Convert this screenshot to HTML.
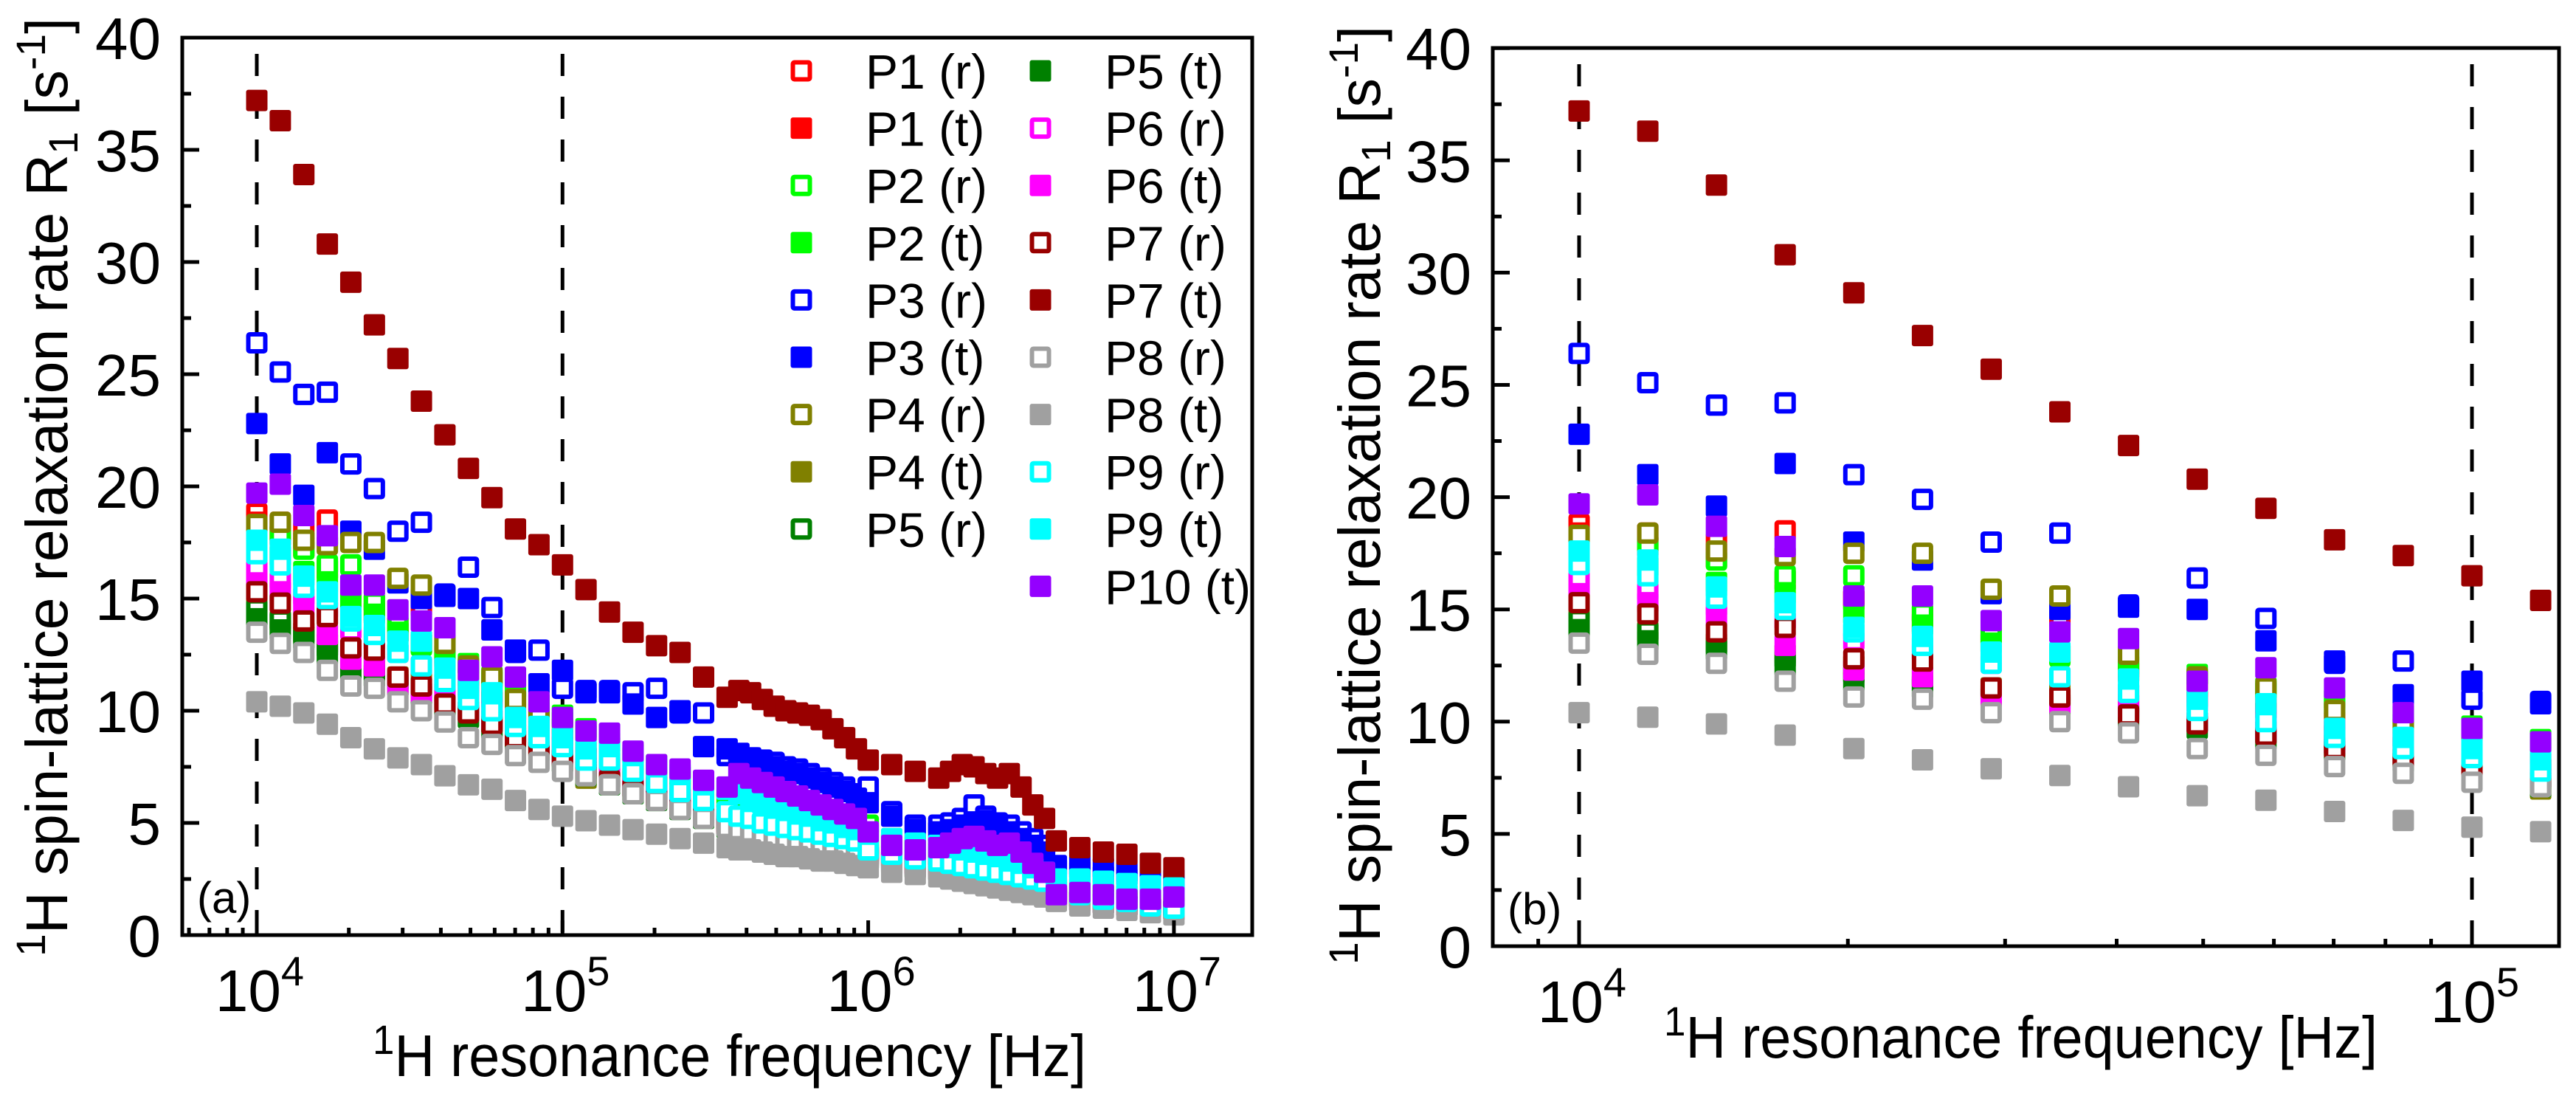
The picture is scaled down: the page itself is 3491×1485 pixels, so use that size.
<!DOCTYPE html>
<html><head><meta charset="utf-8">
<style>
html,body{margin:0;padding:0;background:#fff;}
svg{display:block;font-family:"Liberation Sans",Arial,sans-serif;}
</style></head>
<body>
<svg id="fig" xmlns="http://www.w3.org/2000/svg" width="3491" height="1485" viewBox="0 0 3491 1485">
<rect width="3491" height="1485" fill="#fff"/>
<defs>
<clipPath id="clipA"><rect x="247" y="51" width="1450" height="1216"/></clipPath>
<clipPath id="clipB"><rect x="2023" y="65" width="1445" height="1217"/></clipPath>
</defs>
<g id="panelA"></g>
<g id="panelB"></g>
</svg>
<script>
// ---- data ----
const freqA = [10000,11938,14251,17013,20309,24245,28943,34551,41246,49239,58780,70170,83768,100000,119378,
142510,170125,203092,242446,289427,
345511,377500,412463,450600,492388,538000,587802,642200,701704,766700,837678,915200,
1000000,1193777,1425103,
1701254,1859000,2030918,2219000,2424462,2649000,2894266,3162278,3455107,3775000,
4124626,4923883,5878016,7017038,8376776,10000000];
const seriesNames = ["P1 (r)","P1 (t)","P2 (r)","P2 (t)","P3 (r)","P3 (t)","P4 (r)","P4 (t)","P5 (r)","P5 (t)","P6 (r)","P6 (t)","P7 (r)","P7 (t)","P8 (r)","P8 (t)","P9 (r)","P9 (t)","P10 (t)"];
const seriesColors = ["#ff0000","#ff0000","#00ff00","#00ff00","#0000ff","#0000ff","#808000","#808000","#008000","#008000","#ff00ff","#ff00ff","#990000","#990000","#a0a0a0","#a0a0a0","#00ffff","#00ffff","#9400ff"];
const seriesHollow = [true,false,true,false,true,false,true,false,true,false,true,false,true,false,true,false,true,false,false];
const P1r=[18.8,18.4,18.0,18.5,15.5,14.8,13.8,14.6,12.3,11.0,10.5,9.5,9.0,8.5,8.0, 7.6,7.1,6.7,6.2,5.8, 5.3,5.2,5.0,4.9,4.7,4.6,4.5,4.4,4.3,4.2,4.1,4.0, 3.7,3.5,3.3, 3.2,3.1,3.0,2.9,2.8,2.7,2.6,2.5,2.4,2.3, 1.9,1.7,1.6,1.4,1.3,1.2];
const P1t=[18.4,17.8,17.3,16.3,15.4,14.4,13.5,13.0,12.2,11.5,10.8,10.0,9.3,8.8,8.2, 7.7,7.2,6.8,6.3,5.9, 5.4,5.3,5.1,5.0,4.8,4.7,4.6,4.5,4.4,4.3,4.2,4.1, 3.8,3.6,3.4, 3.3,3.2,3.1,3.0,2.9,2.8,2.7,2.6,2.5,2.4, 2.0,1.8,1.7,1.5,1.4,1.3];
const P2r=[17.6,17.9,17.2,16.5,16.5,14.8,13.8,12.9,12.9,12.0,11.4,10.7,10.0,9.6,9.0, 8.5,8.0,7.5,7.0,6.4, 6.0,5.8,5.6,5.4,5.2,5.0,4.9,4.8,4.7,4.6,4.5,4.4, 4.9,4.2,4.0, 3.6,3.5,3.4,3.3,3.2,3.1,3.0,2.9,2.8,2.7, 2.2,2.0,1.9,1.7,1.6,1.5];
const P2t=[17.3,16.9,16.2,15.7,14.8,14.3,13.5,13.0,12.5,12.1,11.5,11.0,10.3,9.8,9.2, 8.6,8.1,7.6,7.1,6.5, 6.1,5.9,5.7,5.5,5.3,5.1,5.0,4.9,4.8,4.7,4.6,4.5, 4.3,4.1,3.9, 3.7,3.6,3.5,3.4,3.3,3.2,3.1,3.0,2.9,2.8, 2.3,2.1,2.0,1.8,1.7,1.6];
const P3r=[26.4,25.1,24.1,24.2,21.0,19.9,18.0,18.4,15.2,16.4,14.6,12.6,12.7,11.0,10.9, 10.9,10.8,11.0,9.9,9.9, 8.0,8.0,7.9,7.8,7.7,7.5,7.4,7.2,7.0,6.8,6.6,6.3, 6.6,5.5,4.9, 4.9,5.0,5.2,5.8,5.3,5.0,4.9,4.6,4.3,4.0, 3.0,2.9,2.7,2.6,2.4,2.3];
const P3t=[22.8,21.0,19.6,21.5,18.0,17.2,15.7,15.0,15.1,15.0,13.6,12.7,11.2,11.8,10.8, 10.8,10.3,9.7,10.0,8.4, 8.3,8.1,7.9,7.7,7.5,7.3,7.2,7.0,6.8,6.6,6.4,6.1, 5.9,5.3,4.7, 4.6,4.7,4.9,5.0,5.1,4.9,4.6,4.3,4.0,3.7, 3.1,3.1,3.0,2.8,2.6,2.5];
const P4r=[18.3,18.4,17.6,17.4,17.5,17.5,15.9,15.6,13.0,12.0,11.5,10.5,9.8,9.3,7.0, 7.5,7.0,6.5,6.0,5.6, 5.1,5.0,4.8,4.7,4.5,4.4,4.3,4.2,4.1,4.0,3.9,3.8, 3.6,3.4,3.2, 3.1,3.0,2.9,2.8,2.7,2.6,2.5,2.4,2.3,2.2, 1.8,1.6,1.5,1.4,1.3,1.1];
const P4t=[14.6,14.0,13.5,13.0,12.5,12.0,11.5,11.3,10.8,10.0,9.6,9.0,8.4,7.9,7.0, 6.8,6.4,6.1,5.7,5.3, 4.9,4.8,4.7,4.6,4.4,4.3,4.2,4.1,4.0,3.9,3.8,3.7, 3.5,3.3,3.1, 3.0,2.9,2.8,2.7,2.6,2.5,2.4,2.3,2.2,2.1, 1.7,1.5,1.4,1.3,1.2,1.1];
const P5r=[14.5,14.0,13.4,12.8,12.1,11.7,11.3,10.9,10.4,9.9,9.4,8.9,8.4,7.9,7.3, 6.9,6.5,6.2,5.8,5.4, 5.0,4.9,4.8,4.7,4.5,4.4,4.3,4.2,4.1,4.0,3.9,3.8, 3.6,3.4,3.2, 3.1,3.0,2.9,2.8,2.7,2.6,2.5,2.4,2.3,2.2, 1.8,1.6,1.5,1.4,1.3,1.2];
const P5t=[14.1,13.6,13.2,12.5,11.8,11.5,11.1,10.7,10.2,9.7,9.2,8.7,8.2,7.7,7.1, 6.7,6.3,6.0,5.6,5.2, 4.8,4.7,4.6,4.5,4.3,4.2,4.1,4.0,3.9,3.8,3.7,3.6, 3.4,3.2,3.0, 2.9,2.8,2.7,2.6,2.5,2.4,2.3,2.2,2.1,2.0, 1.6,1.5,1.4,1.3,1.2,1.1];
const P6r=[16.3,15.8,15.1,14.5,13.6,13.1,12.6,12.0,11.3,10.8,10.3,9.7,9.2,8.7,8.0, 7.3,6.9,6.5,6.0,5.6, 5.2,5.0,4.9,4.8,4.6,4.5,4.4,4.3,4.2,4.1,4.0,3.9, 3.6,3.4,3.2, 3.1,3.0,2.9,2.8,2.7,2.6,2.5,2.4,2.3,2.2, 1.8,1.6,1.5,1.4,1.3,1.2];
const P6t=[15.7,15.3,14.7,13.4,12.3,12.0,11.1,10.8,10.6,10.0,9.6,9.0,8.5,8.0,7.5, 7.0,6.6,6.2,5.8,5.4, 4.9,4.8,4.6,4.5,4.4,4.3,4.2,4.1,4.0,3.9,3.8,3.7, 3.5,3.3,3.1, 3.0,2.9,2.8,2.7,2.6,2.5,2.4,2.3,2.2,2.1, 1.7,1.5,1.4,1.3,1.2,1.1];
const P7r=[15.3,14.8,14.0,14.2,12.8,12.7,11.5,11.1,10.3,9.9,9.4,8.8,8.3,7.9,7.4, 6.9,6.5,6.1,5.7,5.3, 4.9,4.8,4.7,4.6,4.4,4.3,4.2,4.1,4.0,3.9,3.8,3.7, 3.5,3.3,3.1, 3.0,2.9,2.8,2.7,2.6,2.5,2.4,2.3,2.2,2.1, 1.7,1.6,1.5,1.4,1.3,1.2];
const P7t=[37.2,36.3,33.9,30.8,29.1,27.2,25.7,23.8,22.3,20.8,19.5,18.1,17.4,16.5,15.4, 14.4,13.5,12.9,12.6,11.5, 10.6,10.9,10.8,10.5,10.2,10.0,9.9,9.8,9.6,9.2,8.8,8.3, 7.8,7.6,7.3, 7.0,7.3,7.6,7.5,7.2,7.0,7.2,6.6,5.8,5.2, 4.2,3.9,3.7,3.6,3.2,3.0];
const P8r=[13.5,13.0,12.6,11.8,11.1,11.0,10.4,10.0,9.5,8.8,8.5,8.0,7.7,7.3,7.1, 6.7,6.3,6.0,5.6,5.2, 4.8,4.7,4.6,4.4,4.3,4.2,4.1,4.0,3.9,3.8,3.7,3.6, 3.3,3.1,2.9, 2.8,2.7,2.6,2.5,2.4,2.3,2.2,2.1,2.0,1.9, 1.6,1.5,1.4,1.3,1.2,1.1];
const P8t=[10.4,10.2,9.9,9.4,8.8,8.3,7.9,7.6,7.1,6.7,6.5,6.0,5.6,5.3,5.1, 4.9,4.7,4.5,4.3,4.1, 3.9,3.8,3.8,3.7,3.6,3.5,3.5,3.4,3.3,3.3,3.2,3.1, 3.0,2.8,2.7, 2.6,2.5,2.4,2.3,2.2,2.1,2.0,1.9,1.8,1.7, 1.5,1.3,1.2,1.1,1.0,0.9];
const P9r=[17.0,16.5,15.5,15.0,14.0,13.4,12.6,12.0,11.3,10.5,10.0,9.3,8.8,8.4,7.8, 7.8,7.3,6.8,6.4,6.0, 5.5,5.3,5.2,5.0,4.9,4.8,4.7,4.6,4.5,4.4,4.3,4.2, 3.8,3.6,3.4, 3.3,3.2,3.1,3.0,2.9,2.8,2.7,2.6,2.5,2.4, 2.0,1.8,1.6,1.5,1.3,1.2];
const P9t=[17.6,17.2,16.0,15.3,14.2,13.8,13.1,13.1,11.9,11.0,10.8,9.7,9.3,8.8,8.3, 8.4,8.0,7.5,7.2,6.7, 6.5,6.3,6.1,5.9,5.7,5.6,5.4,5.3,5.1,5.0,4.8,4.7, 4.5,4.3,4.1, 4.0,3.9,3.8,3.7,3.6,3.5,3.3,3.2,3.0,2.8, 2.5,2.5,2.4,2.3,2.2,2.1];
const P10t=[19.7,20.1,18.7,17.8,15.6,15.6,14.5,14.0,13.7,11.8,12.4,11.5,10.4,9.7,9.1, 9.0,8.2,7.6,7.4,6.9, 6.6,7.2,7.0,6.8,6.6,6.4,6.2,6.0,5.8,5.6,5.4,5.2, 4.6,4.0,3.8, 3.9,4.1,4.3,4.4,4.2,4.0,4.1,3.7,3.2,2.8, 1.8,1.9,1.8,1.6,1.6,1.7];
const seriesValues=[P1r,P1t,P2r,P2t,P3r,P3t,P4r,P4t,P5r,P5t,P6r,P6t,P7r,P7t,P8r,P8t,P9r,P9t,P10t];
const nB = 15; // panel b shows the low-frequency subset
const yTicks=[0,5,10,15,20,25,30,35,40];

const NS="http://www.w3.org/2000/svg";
function mk(tag,attrs,parent){const e=document.createElementNS(NS,tag);for(const k in attrs)e.setAttribute(k,attrs[k]);parent.appendChild(e);return e;}

function marker(parent,cx,cy,color,hollow){
  let r;
  if(hollow){r=mk('rect',{x:cx-11.5,y:cy-11.5,width:23,height:23,rx:2,fill:'#fff',stroke:color,'stroke-width':6},parent);}
  else{r=mk('rect',{x:cx-14.5,y:cy-14.5,width:29,height:29,rx:3,fill:color},parent);}
  return r;
}

function drawPanel(cfg){
  const g=document.getElementById(cfg.id);
  const X=f=>cfg.x0+(Math.log10(f)-4)*cfg.dec;
  const Y=v=>cfg.yb-v*cfg.py;
  [1e4,1e5].forEach(f=>{
    const l=mk('line',{x1:X(f),x2:X(f),y1:cfg.top+22,y2:cfg.yb,stroke:'#000','stroke-width':5,'stroke-dasharray':'30 28'},g);
    
    
  });
  const sg=mk('g',{'clip-path':'url(#'+cfg.clip+')'},g);
  
  
  for(let s=0;s<seriesValues.length;s++){
    const gg=mk('g',{},sg);
    
    
    const n=cfg.n||freqA.length;
    for(let i=0;i<n;i++){
      const m=marker(gg,X(freqA[i]),Y(seriesValues[s][i]),seriesColors[s],seriesHollow[s]);
      
      
    }
  }
  const fr=mk('rect',{x:cfg.left,y:cfg.top,width:cfg.right-cfg.left,height:cfg.yb-cfg.top,fill:'none',stroke:'#000','stroke-width':5},g);
  
  
  yTicks.forEach(v=>{
    const t=mk('line',{x1:cfg.left,x2:cfg.left+23,y1:Y(v),y2:Y(v),stroke:'#000','stroke-width':5},g);
    
    
    if(v<40){
      const t2=mk('line',{x1:cfg.left,x2:cfg.left+12,y1:Y(v+2.5),y2:Y(v+2.5),stroke:'#000','stroke-width':5},g);
      
      
    }
    const tl=mk('text',{x:cfg.left-29,y:Y(v)+29,'text-anchor':'end','font-size':80},g);
    tl.textContent=String(v);
    
    
  });
  for(let e=3;e<=7;e++){
    for(let m=1;m<=9;m++){
      const f=m*Math.pow(10,e);
      const x=X(f);
      if(x<=cfg.left+3||x>=cfg.right-3)continue;
      const major=(m===1);
      const t=mk('line',{x1:x,x2:x,y1:cfg.yb,y2:cfg.yb-(major?20:10),stroke:'#000','stroke-width':5},g);
      
      
      if(major){
        const tl=mk('text',{x:x+4,y:cfg.yb+103,'text-anchor':'middle','font-size':80},g);
        tl.textContent='10';
        const sp=mk('tspan',{dy:-35,'font-size':56},tl);
        sp.textContent=String(e);
        
        
      }
    }
  }
  const yt=mk('text',{x:0,y:0,'text-anchor':'middle','font-size':80,transform:'translate('+cfg.ytx+','+cfg.yty+') rotate(-90)',textLength:1272,lengthAdjust:'spacingAndGlyphs'},g);
  yt.innerHTML='<tspan font-size="56" dy="-30">1</tspan><tspan dy="30">H spin-lattice relaxation rate R</tspan><tspan font-size="56" dy="14">1</tspan><tspan dy="-14"> [s</tspan><tspan font-size="56" dy="-30">-1</tspan><tspan dy="30">]</tspan>';
  
  
  const xt=mk('text',{x:cfg.xtx,y:cfg.xty,'font-size':80,textLength:967,lengthAdjust:'spacingAndGlyphs'},g);
  xt.innerHTML='<tspan font-size="56" dy="-30">1</tspan><tspan dy="30">H resonance frequency [Hz]</tspan>';
  
  
  const pl=mk('text',{x:cfg.left+20,y:cfg.yb-30,'font-size':60},g);
  pl.textContent=cfg.label;
  
  
  return {X,Y,g};
}

drawPanel({id:'panelA',clip:'clipA',left:247,right:1697,top:51,yb:1267,x0:348,dec:414.3,py:30.4,ytx:91,yty:660,xtx:505,xty:1458,label:'(a)'});
drawPanel({id:'panelB',clip:'clipB',left:2023,right:3468,top:65,yb:1282,x0:2140,dec:1210,py:30.42,ytx:1870,yty:671,xtx:2255,xty:1433,label:'(b)',n:nB});

(function(){
  const g=mk('g',{},document.getElementById('panelA'));
  
  
  for(let s=0;s<seriesNames.length;s++){
    const col=s<9?0:1, row=s<9?s:s-9;
    const mx=col===0?1086:1410, my=96+row*77.6;
    const e=mk('g',{},g);
    
    
    marker(e,mx,my,seriesColors[s],seriesHollow[s]);
    const t=mk('text',{x:mx+87,y:my+24,'font-size':66},e);
    t.textContent=seriesNames[s];
  }
})();
</script>
</body></html>
